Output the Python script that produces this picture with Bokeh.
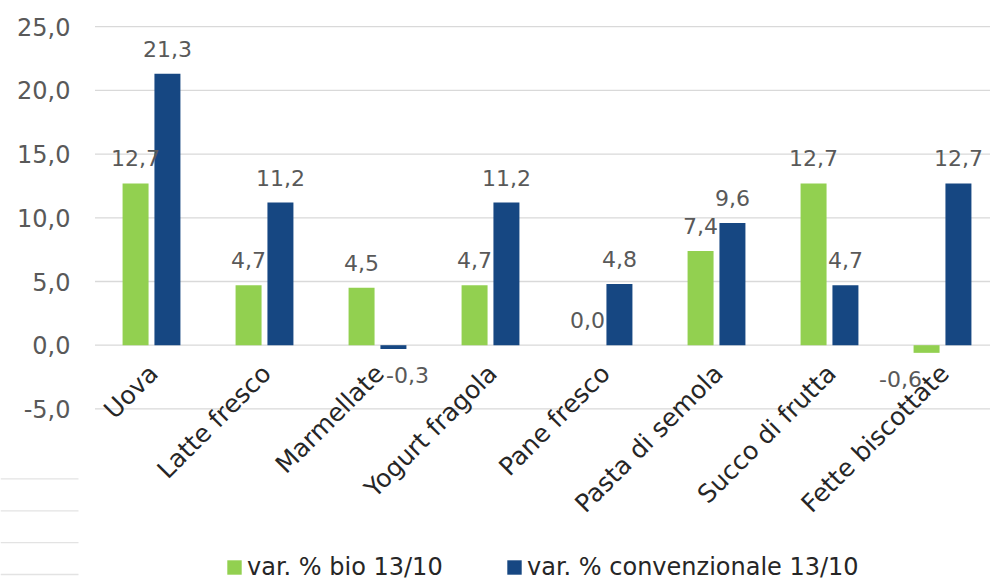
import math
from bokeh.plotting import figure
from bokeh.models import Range1d, Legend, LegendItem
from bokeh.core.properties import value
from bokeh.embed import file_html
from bokeh.resources import INLINE

# ---------------- data ----------------
categories = ["Uova", "Latte fresco", "Marmellate", "Yogurt fragola",
              "Pane fresco", "Pasta di semola", "Succo di frutta", "Fette biscottate"]
bio = [12.7, 4.7, 4.5, 4.7, 0.0, 7.4, 12.7, -0.6]
conv = [21.3, 11.2, -0.3, 11.2, 4.8, 9.6, 4.7, 12.7]
series_names = ["var. % bio 13/10", "var. % convenzionale 13/10"]
y_ticks = [-5, 0, 5, 10, 15, 20, 25]
y_tick_labels = ["-5,0", "0,0", "5,0", "10,0", "15,0", "20,0", "25,0"]
stray_rules = [-10.5, -13.0, -15.5, -18.0]   # faint leftover rules at lower left

# ---------------- layout constants ----------------
W, H = 990, 580
PLOT_LEFT = 94.5      # px where the plot area starts
CAT_W = 113.0         # px per category
Y0_PX = 344.7         # px of value 0
PX_PER_UNIT = 12.74   # px per unit on y
STRAY_RIGHT = 78.0    # px where the stray rules end
# horizontal nudges (px) of the negative value labels, as placed in the original
NEG_SHIFT = {("conv", 2): 14, ("bio", 7): -26}

GREEN = "#92D050"
BLUE = "#164782"
FONT = value("DejaVu Sans")

x_range = Range1d(-PLOT_LEFT / CAT_W, (W - PLOT_LEFT) / CAT_W)
y_range = Range1d((Y0_PX - H) / PX_PER_UNIT, Y0_PX / PX_PER_UNIT)

p = figure(width=W, height=H, x_range=x_range, y_range=y_range,
           output_backend="svg", toolbar_location=None,
           x_axis_location=None, y_axis_location=None,
           min_border=0, outline_line_color=None)
p.grid.visible = False
p.background_fill_color = "white"
p.border_fill_color = "white"

n = len(categories)
centers = [i + 0.5 for i in range(n)]
off = 0.141
bw = 0.23

# gridlines
p.segment(x0=[0] * len(y_ticks), x1=[n] * len(y_ticks), y0=y_ticks, y1=y_ticks,
          line_color="#D9D9D9", line_width=1.3)
# stray rules
p.segment(x0=[x_range.start] * len(stray_rules),
          x1=[(STRAY_RIGHT - PLOT_LEFT) / CAT_W] * len(stray_rules),
          y0=stray_rules, y1=stray_rules, line_color="#E3E3E3", line_width=1.3)

# bars
xb = [c - off for c in centers]
xc = [c + off for c in centers]
r_bio = p.vbar(x=xb, width=bw, top=bio, bottom=0, fill_color=GREEN, line_color=None)
r_conv = p.vbar(x=xc, width=bw, top=conv, bottom=0, fill_color=BLUE, line_color=None)

# value labels
def fmt(v):
    return f"{v:.1f}".replace(".", ",")

for key, xs, vals in (("bio", xb, bio), ("conv", xc, conv)):
    p.text(x=xs, y=vals, text=[fmt(v) for v in vals],
           x_offset=[NEG_SHIFT.get((key, i), 0) for i in range(n)],
           y_offset=[-25 if v >= 0 else 26 for v in vals],
           text_align="center", text_baseline="alphabetic",
           text_font=FONT, text_font_size="22px", text_color="#595959")

# y tick labels
p.text(x=[0] * len(y_ticks), y=y_ticks, text=y_tick_labels, x_offset=-24.5,
       text_align="right", text_baseline="middle",
       text_font=FONT, text_font_size="24px", text_color="#595959")

# category labels
p.text(x=centers, y=[0] * n, text=categories, angle=math.pi / 4,
       x_offset=2, y_offset=24, text_align="right", text_baseline="middle",
       text_font=FONT, text_font_size="25px", text_color="#262626")

legend = Legend(items=[LegendItem(label=series_names[0], renderers=[r_bio]),
                       LegendItem(label=series_names[1], renderers=[r_conv])],
                location=(225, -1), orientation="horizontal",
                glyph_width=18, glyph_height=18, label_standoff=4,
                spacing=52, label_width=206, padding=0, margin=0,
                border_line_color=None, background_fill_alpha=0,
                label_text_font="DejaVu Sans", label_text_font_size="24px",
                label_text_color="#262626")
p.add_layout(legend)

open("out.html", "w").write(file_html(p, INLINE))
